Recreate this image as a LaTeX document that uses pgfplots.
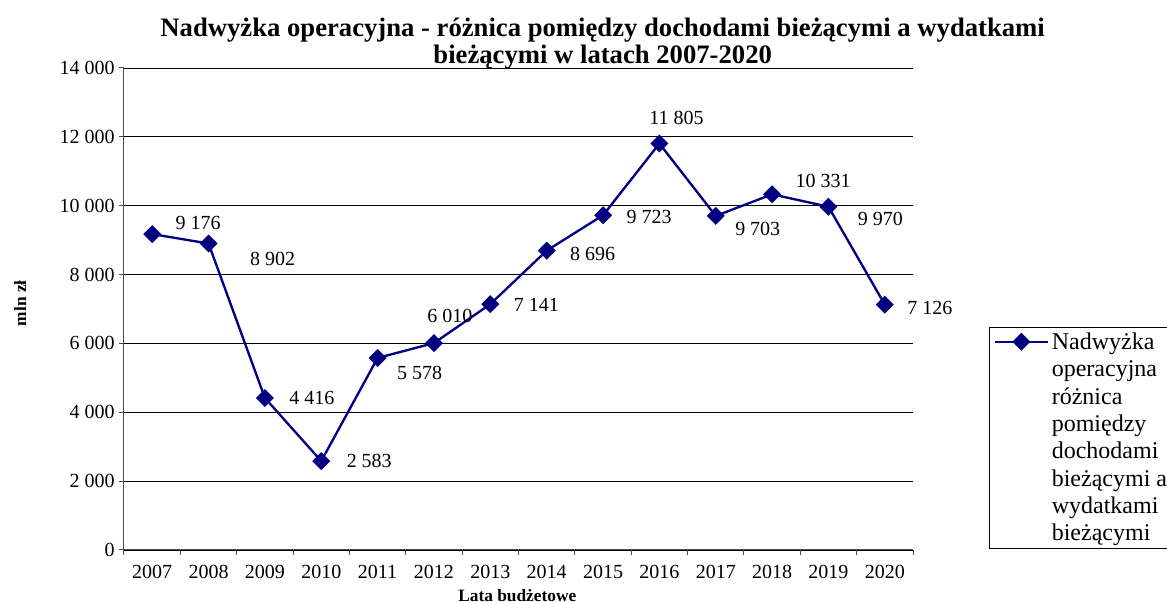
\documentclass[border=0pt]{standalone}
\usepackage{fontspec}
\setmainfont{Liberation Serif}
\usepackage{pgfplots}
\pgfplotsset{compat=1.18}
\usepackage{pgfplotstable}
\definecolor{navy}{HTML}{000080}
\pgfplotstableread{
x y dx dy
0 9176 34.5 8.25
1 8902 48 -11.25
2 4416 35.25 0
3 2583 36 0
4 5578 31.5 -11.25
5 6010 12 20.25
6 7141 34.5 -0.75
7 8696 34.5 -2.25
8 9723 34.5 -1.5
9 11805 12.75 19.5
10 9703 31.5 -9.75
11 10331 38.25 9.75
12 9970 39 -9
13 7126 33.75 -2.25
}\datatable
\begin{document}
\begin{tikzpicture}
\begin{axis}[
  at={(0pt,0pt)}, anchor=south west,
  scale only axis, width=591.75pt, height=361.5pt,
  xmin=-0.5, xmax=13.5, ymin=0, ymax=14000,
  axis x line*=bottom, axis y line*=left,
  axis line style={black!70, line width=0.75pt},
  ytick={0,2000,...,14000},
  ymajorgrids, grid style={black, line width=0.6pt},
  tick align=outside, major tick length=3.5pt,
  tick style={black!70, line width=0.75pt},
  xtick={-0.5,0.5,...,13.5}, xticklabels={},
  extra x ticks={0,1,...,13},
  extra x tick labels={2007,2008,2009,2010,2011,2012,2013,2014,2015,2016,2017,2018,2019,2020},
  extra x tick style={major tick length=0pt},
  xticklabel style={yshift=-8pt},
  scaled y ticks=false,
  /pgf/number format/1000 sep={\ },
  /pgf/number format/assume math mode=true,
  yticklabel={\pgfmathprintnumber{\tick}},
  ticklabel style={font=\fontsize{15}{18}\selectfont},
  clip=false,
  title={Nadwyżka operacyjna - różnica pomiędzy dochodami bieżącymi a wydatkami\\bieżącymi w latach 2007-2020},
  title style={at={(0.6067,1.033)}, anchor=center, align=center, font=\bfseries\fontsize{20}{20.25}\selectfont},
  xlabel={Lata budżetowe},
  xlabel style={at={(0.4985,-0.0954)}, anchor=center, font=\bfseries\fontsize{13}{15}\selectfont},
  ylabel={mln zł},
  ylabel style={at={(-0.1318,0.5118)}, anchor=center, font=\bfseries\fontsize{13}{15}\selectfont},
  nodes near coords,
  visualization depends on={\thisrow{dx} \as \dx},
  visualization depends on={\thisrow{dy} \as \dy},
  every node near coord/.append style={anchor=center, xshift=\dx pt, yshift=\dy pt, font=\fontsize{15}{18}\selectfont, text=black},
  legend style={at={(1.0963,0.4627)}, anchor=north west, draw=black, line width=0.75pt,
    font=\fontsize{18}{20.5}\selectfont, cells={anchor=west, align=left}},
  legend image code/.code={\draw[mark repeat=2,mark phase=2,#1,yshift=72pt] plot coordinates {(2pt,0pt) (22pt,0pt) (42pt,0pt)};},
]
\addplot[navy, line width=1.75pt, mark=square*, mark size=3.9pt, mark options={rotate=45, solid, fill=navy}]
  table[x=x, y=y] {\datatable};
\addlegendentry{Nadwyżka\\operacyjna\\różnica\\pomiędzy\\dochodami\\bieżącymi a\\wydatkami\\bieżącymi}
\end{axis}
\pgfresetboundingbox
\useasboundingbox (-93pt,-39pt) rectangle (782.25pt,412.5pt);
\end{tikzpicture}
\end{document}
